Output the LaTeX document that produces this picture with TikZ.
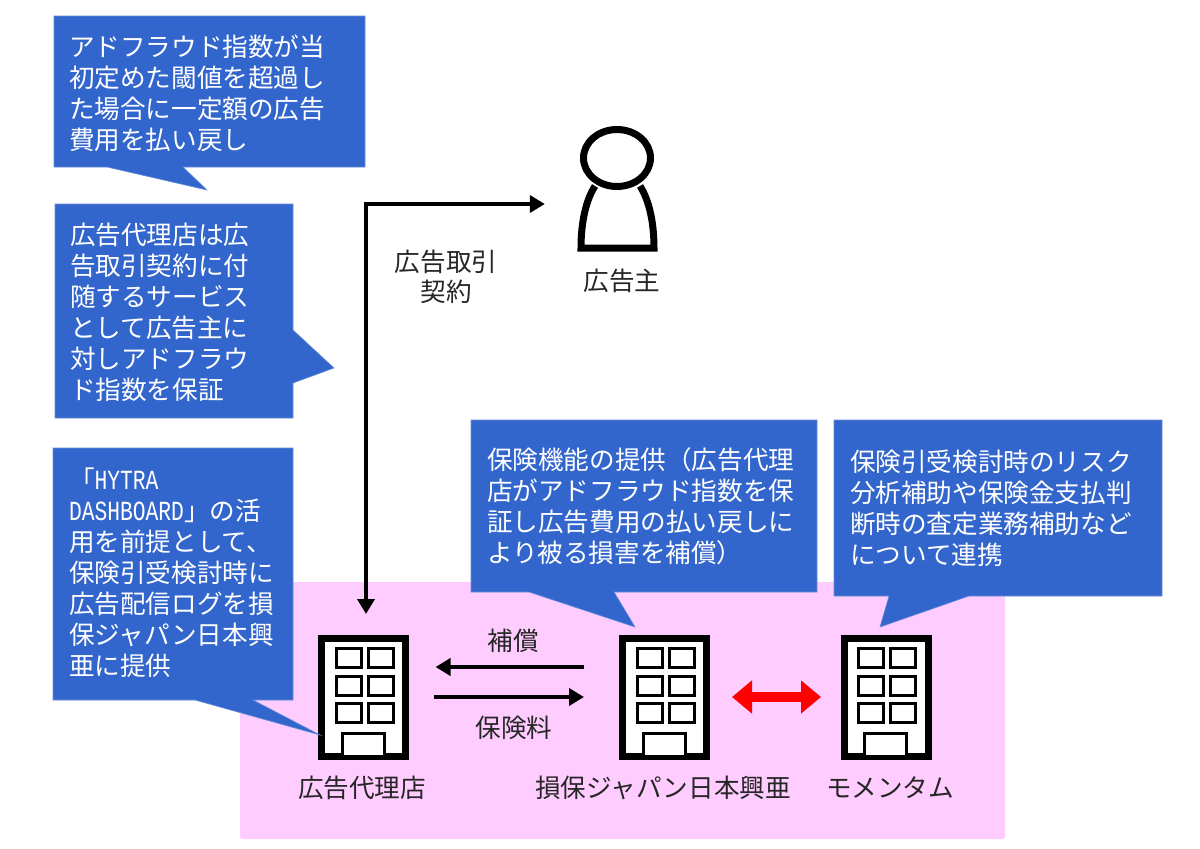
\documentclass[tikz,border=0pt]{standalone}
\usepackage{fontspec}
\setmainfont{Noto Sans CJK JP}
\newfontfamily\latinmono{Liberation Mono}
\usetikzlibrary{arrows.meta}
\definecolor{bubbleblue}{HTML}{3366CC}
\definecolor{bandpink}{HTML}{FFCCFF}
\definecolor{inktext}{HTML}{262626}
\newcommand{\lm}[1]{\scalebox{1}[1.3]{\latinmono\fontsize{21.3}{31}\selectfont #1}}
\tikzset{
  x=1pt,y=-1pt,
  bubble/.style={fill=bubbleblue,draw=bubbleblue!75!white,line width=0.6pt},
  bubbletext/.style={anchor=north west,inner sep=0pt,outer sep=0pt,align=left,text=white,font=\fontsize{25.6}{31}\selectfont},
  plainlabel/.style={inner sep=0pt,align=center,text=inktext,font=\fontsize{25.6}{30}\selectfont},
  building/.style={draw=black,fill=white,line width=7pt,minimum width=84pt,minimum height=118pt,inner sep=0pt},
  window/.style={draw=black,line width=3pt,fill=white},
  flow/.style={draw=black,line width=4pt,-{Triangle[length=15pt,width=17pt]}},
  redflow/.style={draw=red,line width=10pt,{Triangle[length=20pt,width=32pt]}-{Triangle[length=20pt,width=32pt]}}
}
\newcommand{\windows}[1]{%
  \begin{scope}[shift={(#1)}]
    \foreach \wy in {648,676,703}{
      \draw[window] (18,\wy) rectangle (43,\wy+19);
      \draw[window] (50,\wy) rectangle (75,\wy+19);
    }
    \draw[window] (24,733) rectangle (66,756);
  \end{scope}}
\begin{document}
\begin{tikzpicture}
\useasboundingbox (0,0) rectangle (1200,849);
\fill[white] (0,0) rectangle (1200,849);
\fill[bandpink,rounded corners=2pt] (240,582) rectangle (1005,839);

% buildings
\node[building] (agency) at (363,697.5) {};
\windows{318,0}
\node[building] (insurer) at (664.5,697.5) {};
\windows{619,0}
\node[building] (momentum) at (886.5,697.5) {};
\windows{840,0}

% advertiser
\node[minimum width=79pt,minimum height=123pt,inner sep=0pt] (advertiser) at (617.5,186.5) {};
\draw[black,line width=7pt] (595,186) .. controls (586,200) and (581,222) .. (581,248) -- (654,248) .. controls (654,222) and (649,200) .. (640,186);
\draw[black,line width=7pt,fill=white] (617,158) ellipse [x radius=33.5,y radius=28.5];

% connectors
\coordinate (elbow) at (366,204);
\coordinate (upperflow) at (0,667);
\coordinate (lowerflow) at (0,697);
\draw[flow,shorten >=33pt,shorten <=21pt,{Triangle[length=15pt,width=17pt]}-{Triangle[length=15pt,width=17pt]}] (agency.north -| elbow) |- (advertiser.west |- elbow);
\draw[flow,shorten >=27pt,shorten <=35pt] (insurer.west |- upperflow) -- (agency.east |- upperflow);
\draw[flow,shorten >=35pt,shorten <=25pt] (agency.east |- lowerflow) -- (insurer.west |- lowerflow);
\draw[redflow,shorten >=20pt,shorten <=22pt] (insurer.east |- lowerflow) -- (momentum.west |- lowerflow);

% bubbles
\draw[bubble] (54,16) -- (365,16) -- (365,167) -- (183,167) -- (207,190) -- (107,167) -- (54,167) -- cycle;
\draw[bubble] (55,204) -- (293,204) -- (293,330) -- (334,368) -- (293,383) -- (293,418) -- (55,418) -- cycle;
\draw[bubble] (53,448) -- (293,448) -- (293,700) -- (253,700) -- (320,735) -- (195,700) -- (53,700) -- cycle;
\draw[bubble] (471,420) -- (817,420) -- (817,592) -- (614,592) -- (635,627) -- (529,592) -- (471,592) -- cycle;
\draw[bubble] (834,420) -- (1162,420) -- (1162,596) -- (969,596) -- (880,627) -- (889,596) -- (834,596) -- cycle;

\node[bubbletext] (t1) at (69,35) {アドフラウド指数が当\\初定めた閾値を超過し\\た場合に一定額の広告\\費用を払い戻し};
\node[bubbletext] (t2) at (70,223) {広告代理店は広\\告取引契約に付\\随するサービス\\として広告主に\\対しアドフラウ\\ド指数を保証};
\node[bubbletext] (t3) at (69,468) {「\lm{HYTRA}\\\lm{DASHBOARD}」の活\\用を前提として、\\保険引受検討時に\\広告配信ログを損\\保ジャパン日本興\\亜に提供};
\node[bubbletext] (t4) at (487,448) {保険機能の提供（広告代理\\店がアドフラウド指数を保\\証し広告費用の払い戻しに\\より被る損害を補償）};
\node[bubbletext] (t5) at (850,450) {保険引受検討時のリスク\\分析補助や保険金支払判\\断時の査定業務補助など\\について連携};

% labels
\node[plainlabel] (l1) at (446,277) {広告取引\\契約};
\node[plainlabel] (l2) at (622,281) {広告主};
\node[plainlabel] (l3) at (513,641) {補償};
\node[plainlabel] (l4) at (514,728) {保険料};
\node[plainlabel] (l5) at (362,788) {広告代理店};
\node[plainlabel] (l6) at (663,788) {損保ジャパン日本興亜};
\node[plainlabel] (l7) at (890,788) {モメンタム};
\end{tikzpicture}
\end{document}
